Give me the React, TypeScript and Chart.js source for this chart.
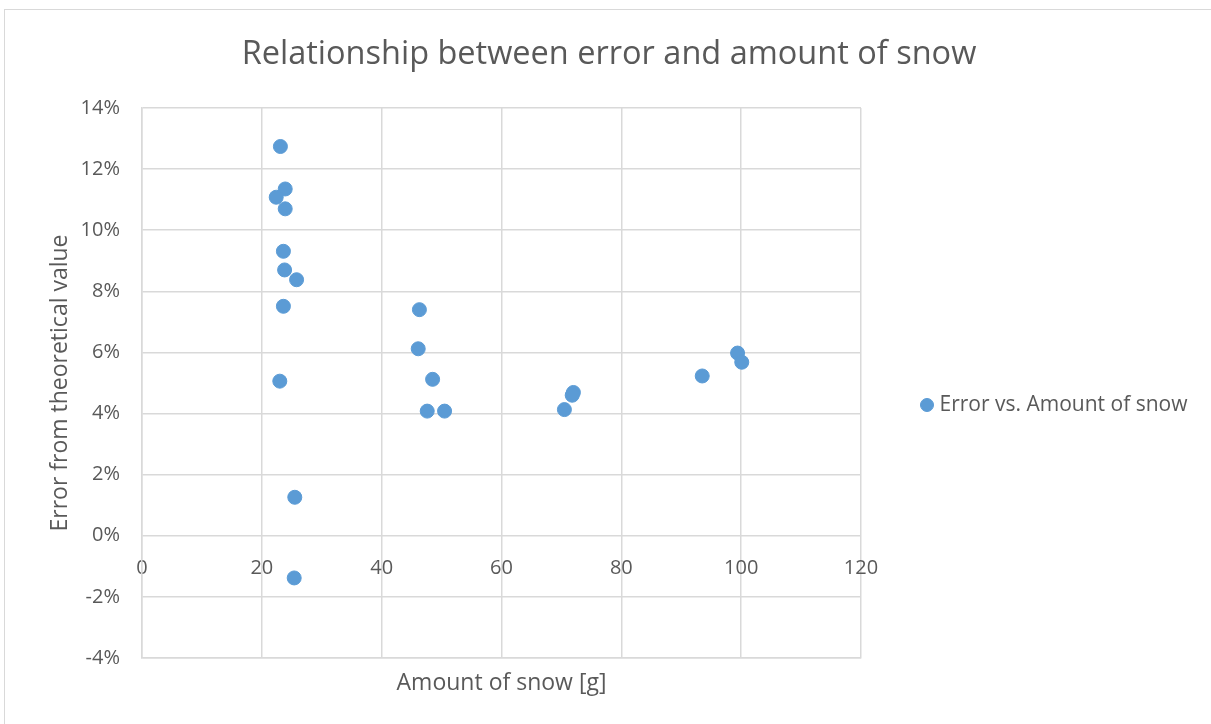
import React, { useEffect, useRef } from "react";
import { Chart, registerables } from "chart.js";

Chart.register(...registerables);

// ---- Data ----
const chartTitle = "Relationship between error and amount of snow";
const seriesLabel = "Error vs. Amount of snow";
const xAxisTitle = "Amount of snow [g]";
const yAxisTitle = "Error from theoretical value";

// Amount of snow [g]
const amountOfSnow = [
  23.1, 23.9, 22.4, 23.9, 23.6, 23.8, 25.8, 23.6, 23.0, 25.5, 25.4,
  46.3, 46.1, 48.5, 47.6, 50.5,
  72.0, 71.8, 70.5,
  93.5, 99.4, 100.1,
];
// Error from theoretical value [%]
const errorPct = [
  12.74, 11.35, 11.08, 10.7, 9.31, 8.7, 8.38, 7.51, 5.06, 1.26, -1.38,
  7.4, 6.12, 5.12, 4.08, 4.08,
  4.69, 4.6, 4.13,
  5.23, 5.98, 5.68,
];

const xMin = 0;
const xMax = 120;
const xStep = 20;
const yMin = -4;
const yMax = 14;
const yStep = 2;

const BLUE = "#5b9bd5";
const GRID = "#d9d9d9";
const TEXT = "#595959";
const FONT = "'Open Sans', sans-serif";

export default function App() {
  const ref = useRef<HTMLCanvasElement>(null);

  useEffect(() => {
    document.body.style.margin = "0";
    document.body.style.overflow = "hidden";
    const canvas = ref.current;
    if (!canvas) return;
    const chart = new Chart(canvas, {
      type: "scatter",
      data: {
        datasets: [
          {
            label: seriesLabel,
            data: amountOfSnow.map((x, i) => ({ x, y: errorPct[i] })),
            backgroundColor: BLUE,
            borderColor: BLUE,
            borderWidth: 1,
            pointRadius: 7,
            pointHoverRadius: 7,
            xAxisID: "x",
            yAxisID: "y",
          },
        ],
      },
      options: {
        responsive: false,
        animation: false,
        devicePixelRatio: 1,
        layout: { padding: { left: 24, right: 17, top: 0, bottom: 24 } },
        plugins: {
          title: {
            display: true,
            text: chartTitle,
            color: TEXT,
            font: { family: FONT, size: 32.5, weight: "normal" },
            padding: { top: 35.5, bottom: 33.5 },
          },
          legend: {
            display: true,
            position: "right",
            maxWidth: 333,
            title: {
              display: true,
              text: " ",
              font: { family: FONT, size: 12 },
              padding: { top: 95.6, bottom: 0 },
            },
            labels: {
              usePointStyle: true,
              pointStyle: "circle",
              boxWidth: 4,
              boxHeight: 9.2,
              padding: 64,
              color: TEXT,
              font: { family: FONT, size: 21 },
            },
          },
          tooltip: { enabled: false },
        },
        scales: {
          x: {
            type: "linear",
            position: "bottom",
            min: xMin,
            max: xMax,
            ticks: { display: false, stepSize: xStep },
            grid: { color: GRID, drawTicks: false, lineWidth: 1.5 },
            border: { color: GRID, width: 1.5 },
            title: {
              display: true,
              text: xAxisTitle,
              color: TEXT,
              font: { family: FONT, size: 23 },
              padding: { top: 11.2, bottom: 3.2 },
            },
          },
          xTicks: {
            type: "linear",
            position: { y: 0 },
            min: xMin,
            max: xMax,
            ticks: {
              stepSize: xStep,
              padding: 21,
              color: TEXT,
              font: { family: FONT, size: 20 },
            },
            grid: { display: false, drawTicks: false },
            border: { display: false },
          },
          y: {
            type: "linear",
            position: "left",
            min: yMin,
            max: yMax,
            ticks: {
              stepSize: yStep,
              padding: 22,
              color: TEXT,
              font: { family: FONT, size: 20 },
              callback: (v: any) => `${Math.round(Number(v))}%`,
            },
            grid: { color: GRID, drawTicks: false, lineWidth: 1.5 },
            border: { color: GRID, width: 1.5 },
            title: {
              display: true,
              text: yAxisTitle,
              color: TEXT,
              font: { family: FONT, size: 23 },
              padding: { top: 23, bottom: 0 },
            },
            afterFit: (scale: any) => {
              scale.width = 118;
            },
          },
        },
      } as any,
    });
    return () => chart.destroy();
  }, []);

  return (
    <div
      style={{
        position: "relative",
        width: 1211,
        height: 724,
        overflow: "hidden",
        background: "#ffffff",
      }}
    >
      <div
        style={{
          position: "absolute",
          left: 4,
          top: 9,
          right: -10,
          bottom: -10,
          borderLeft: `1px solid ${GRID}`,
          borderTop: `1px solid ${GRID}`,
        }}
      />
      <canvas
        ref={ref}
        width={1211}
        height={724}
        style={{ position: "absolute", left: 0, top: 0, display: "block" }}
      />
    </div>
  );
}
